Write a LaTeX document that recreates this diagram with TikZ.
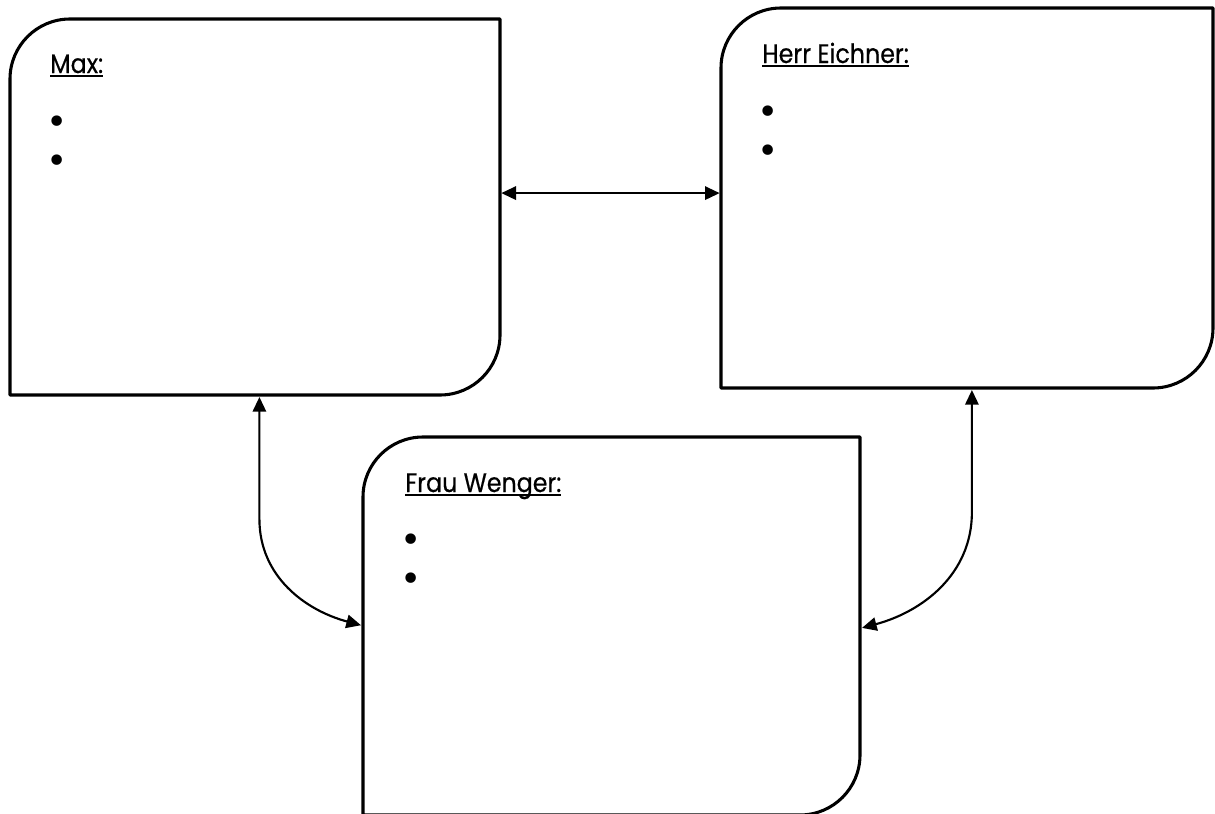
\documentclass[tikz,border=0pt]{standalone}
\usepackage{fontspec}
\setmainfont[FakeStretch=0.89,FakeBold=0.5,UprightFeatures={FakeBold=0.5}]{Poppins}
\newfontfamily\bulletfont{DejaVu Sans}
\newcommand{\myuline}[1]{\setbox0\hbox{#1}\rlap{\rule[-3.3pt]{\wd0}{1.5pt}}\box0}
\usetikzlibrary{arrows.meta,calc}
\tikzset{
  area/.style={rectangle,inner sep=0pt,outer sep=0pt},
  boxline/.style={line width=2.3pt,line join=round},
  conn/.style={line width=1.6pt,{Triangle[length=11pt,width=10pt]}-{Triangle[length=11pt,width=10pt]}},
  title/.style={anchor=base west,inner sep=0pt,font=\fontsize{20}{22}\selectfont},
  bul/.style={anchor=center,inner sep=0pt,font=\bulletfont\fontsize{27}{29}\selectfont}
}
\begin{document}
\begin{tikzpicture}[x=0.75pt,y=-0.75pt]
\useasboundingbox (0,0) rectangle (1215,814);
% box nodes
\node[area,minimum width=367.5pt,minimum height=282pt] (max) at (255,207) {};
\node[area,minimum width=369pt,minimum height=285pt] (herr) at (967,198) {};
\node[area,minimum width=372.75pt,minimum height=283.5pt] (frau) at (611.5,626) {};
% outlines
\foreach \b in {max,herr,frau}{
  \draw[boxline] ([yshift=-45pt]\b.north west) arc[start angle=180,end angle=90,radius=45pt]
    -- (\b.north east) -- ([yshift=45pt]\b.south east)
    arc[start angle=0,end angle=-90,radius=45pt] -- (\b.south west) -- cycle;
}
% titles
\node[title] (tmax) at (50,73) {\myuline{Max:}};
\node[title] (therr) at (762,63) {\myuline{Herr Eichner:}};
\node[title] (tfrau) at (405,492) {\myuline{Frau Wenger:}};
% bullets
\node[bul] (m1) at (57,125) {•};
\node[bul] (m2) at (57,164) {•};
\node[bul] (h1) at (768,115) {•};
\node[bul] (h2) at (768,154) {•};
\node[bul] (f1) at (411,543) {•};
\node[bul] (f2) at (411,582) {•};
% connectors
\coordinate (maxR) at ($(max.north east)!0.463!(max.south east)$);
\draw[conn] ([xshift=1pt]maxR) -- ([xshift=-1pt]maxR -| herr.west);
\coordinate (maxB) at ($(max.south west)!0.509!(max.south east)$);
\coordinate (frauL) at ($(frau.north west)!0.498!(frau.south west)$);
\draw[conn] ([yshift=-1.5pt]maxB) -- ++(0,122) to[out=-90,in=165] ([xshift=-1.5pt]frauL);
\coordinate (herrB) at ($(herr.south west)!0.510!(herr.south east)$);
\coordinate (frauR) at ($(frau.north east)!0.505!(frau.south east)$);
\draw[conn] ([yshift=-1.5pt]herrB) -- ++(0,122) to[out=-90,in=15] ([xshift=1.5pt]frauR);
\end{tikzpicture}
\end{document}
